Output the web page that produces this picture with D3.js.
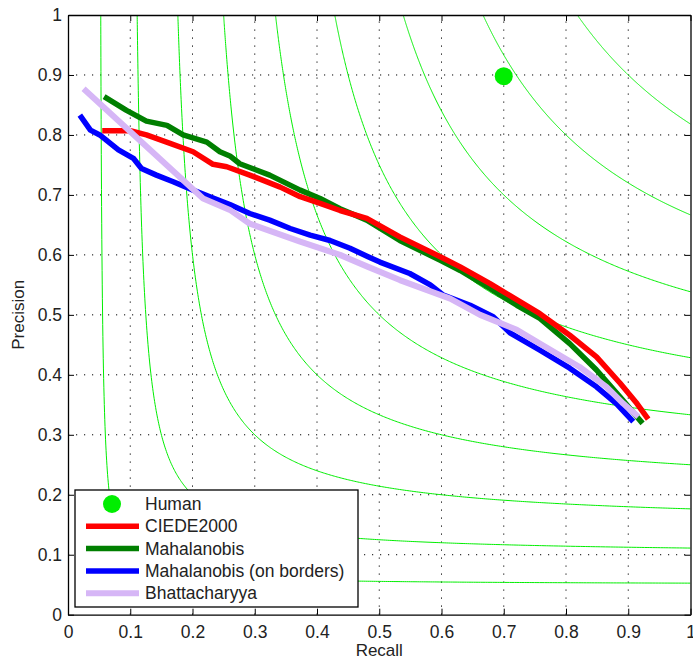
<!DOCTYPE html>
<html>
<head>
<meta charset="utf-8">
<script src="https://cdn.jsdelivr.net/npm/d3@7"></script>
<style>
  body { margin: 0; background: #fff; }
  text { font-family: "Liberation Sans", Arial, sans-serif; fill: #222; }
</style>
</head>
<body>
<div id="chart"></div>
<script>
// iso F-measure levels
const fLevels = [0.1, 0.2, 0.3, 0.4, 0.5, 0.6, 0.7, 0.8, 0.9];
const ticks = [0, 0.1, 0.2, 0.3, 0.4, 0.5, 0.6, 0.7, 0.8, 0.9, 1];
const tickLabels = ['0', '0.1', '0.2', '0.3', '0.4', '0.5', '0.6', '0.7', '0.8', '0.9', '1'];

const human = { recall: 0.70, precision: 0.898 };

// [recall, precision]
const ciede2000 = [
  [0.055, 0.807], [0.10, 0.807], [0.126, 0.80], [0.164, 0.786], [0.201, 0.772],
  [0.233, 0.751], [0.255, 0.747], [0.292, 0.733], [0.341, 0.713], [0.373, 0.697],
  [0.405, 0.686], [0.437, 0.674], [0.48, 0.661], [0.533, 0.63], [0.598, 0.597],
  [0.63, 0.58], [0.678, 0.552], [0.71, 0.532], [0.758, 0.502], [0.806, 0.466],
  [0.849, 0.43], [0.887, 0.386], [0.914, 0.352], [0.932, 0.326]
];
const mahalanobis = [
  [0.058, 0.864], [0.094, 0.841], [0.126, 0.823], [0.159, 0.816], [0.185, 0.80],
  [0.223, 0.788], [0.244, 0.772], [0.26, 0.765], [0.276, 0.752], [0.324, 0.733],
  [0.373, 0.708], [0.405, 0.694], [0.437, 0.677], [0.48, 0.658], [0.533, 0.624],
  [0.598, 0.591], [0.63, 0.574], [0.678, 0.544], [0.721, 0.516], [0.758, 0.494],
  [0.806, 0.452], [0.849, 0.408], [0.887, 0.363], [0.923, 0.319]
];
const mahalanobisBorders = [
  [0.019, 0.833], [0.036, 0.808], [0.051, 0.80], [0.081, 0.775], [0.105, 0.761],
  [0.118, 0.744], [0.142, 0.733], [0.169, 0.722], [0.201, 0.708], [0.228, 0.697],
  [0.26, 0.684], [0.292, 0.669], [0.324, 0.658], [0.357, 0.644], [0.389, 0.633],
  [0.421, 0.624], [0.453, 0.611], [0.482, 0.597], [0.501, 0.588], [0.549, 0.569],
  [0.582, 0.55], [0.603, 0.533], [0.646, 0.516], [0.683, 0.497], [0.71, 0.47],
  [0.758, 0.441], [0.806, 0.411], [0.849, 0.38], [0.881, 0.352], [0.908, 0.322]
];
const bhattacharyya = [
  [0.025, 0.877], [0.217, 0.694], [0.26, 0.675], [0.292, 0.652], [0.373, 0.622],
  [0.437, 0.60], [0.482, 0.58], [0.533, 0.558], [0.614, 0.527], [0.662, 0.50],
  [0.721, 0.475], [0.758, 0.452], [0.822, 0.413], [0.865, 0.38], [0.892, 0.352],
  [0.916, 0.33]
];

const series = [
  { name: 'Mahalanobis', values: mahalanobis, color: '#007f00', width: 5.5 },
  { name: 'CIEDE2000', values: ciede2000, color: '#ff0000', width: 5.5 },
  { name: 'Mahalanobis (on borders)', values: mahalanobisBorders, color: '#0000ff', width: 5.5 },
  { name: 'Bhattacharyya', values: bhattacharyya, color: '#d6b6f6', width: 6 }
];
const legendOrder = ['CIEDE2000', 'Mahalanobis', 'Mahalanobis (on borders)', 'Bhattacharyya'];

const width = 693, height = 660;
const margin = { top: 15, right: 2.5, bottom: 45.3, left: 68 };

const svg = d3.select('#chart').append('svg')
  .attr('width', width)
  .attr('height', height);

const x = d3.scaleLinear().domain([0, 1]).range([margin.left, width - margin.right]);
const y = d3.scaleLinear().domain([0, 1]).range([height - margin.bottom, margin.top]);

svg.append('defs').append('clipPath').attr('id', 'plot-clip')
  .append('rect')
  .attr('x', x(0)).attr('y', y(1))
  .attr('width', x(1) - x(0)).attr('height', y(0) - y(1));

// dotted grid
const grid = svg.append('g');
grid.selectAll('line.gx')
  .data(ticks.slice(1, -1))
  .enter().append('line')
  .attr('x1', d => x(d)).attr('x2', d => x(d))
  .attr('y1', y(0)).attr('y2', y(1))
  .attr('stroke', '#000').attr('stroke-width', 1)
  .attr('stroke-dasharray', '1.2,6.8');
grid.selectAll('line.gy')
  .data(ticks.slice(1, -1))
  .enter().append('line')
  .attr('y1', d => y(d)).attr('y2', d => y(d))
  .attr('x1', x(0)).attr('x2', x(1))
  .attr('stroke', '#000').attr('stroke-width', 1)
  .attr('stroke-dasharray', '1.2,6.8');

// iso-F curves
const plot = svg.append('g').attr('clip-path', 'url(#plot-clip)');
const isoLine = d3.line().x(d => x(d[0])).y(d => y(d[1]));
fLevels.forEach(f => {
  const r0 = f / (2 - f);
  const pts = d3.range(0, 401).map(i => {
    const r = r0 + (1 - r0) * Math.pow(i / 400, 2);
    return [r, f * r / (2 * r - f)];
  });
  plot.append('path')
    .attr('d', isoLine(pts))
    .attr('fill', 'none')
    .attr('stroke', '#00ee00')
    .attr('stroke-width', 1);
});

// curves
const line = d3.line().x(d => x(d[0])).y(d => y(d[1]));
series.forEach(s => {
  plot.append('path')
    .attr('d', line(s.values))
    .attr('fill', 'none')
    .attr('stroke', s.color)
    .attr('stroke-width', s.width)
    .attr('stroke-linejoin', 'round');
});

plot.append('circle')
  .attr('cx', x(human.recall))
  .attr('cy', y(human.precision))
  .attr('r', 9)
  .attr('fill', '#00ee00');

// axes (ticks inward, all four sides)
const tickLen = 6;
svg.append('g')
  .attr('transform', `translate(0,${y(0)})`)
  .call(d3.axisBottom(x).tickValues(ticks).tickSizeInner(-tickLen).tickSizeOuter(0)
    .tickPadding(11).tickFormat((d, i) => tickLabels[i]))
  .call(g => g.selectAll('text').style('font-size', '17.5px').attr('fill', '#222'));
svg.append('g')
  .attr('transform', `translate(${x(0)},0)`)
  .call(d3.axisLeft(y).tickValues(ticks).tickSizeInner(-tickLen).tickSizeOuter(0)
    .tickPadding(6).tickFormat((d, i) => tickLabels[i]))
  .call(g => g.selectAll('text').style('font-size', '17.5px').attr('fill', '#222'));
svg.append('g')
  .attr('transform', `translate(0,${y(1)})`)
  .call(d3.axisTop(x).tickValues(ticks).tickSizeInner(-tickLen).tickSizeOuter(0).tickFormat(''));
svg.append('g')
  .attr('transform', `translate(${x(1)},0)`)
  .call(d3.axisRight(y).tickValues(ticks).tickSizeInner(-tickLen).tickSizeOuter(0).tickFormat(''));
svg.selectAll('.domain').attr('stroke', '#000').attr('stroke-width', 1.3);

// axis titles
svg.append('text')
  .attr('x', x(0.5)).attr('y', 656)
  .attr('text-anchor', 'middle')
  .style('font-size', '17px')
  .text('Recall');
svg.append('text')
  .attr('transform', `translate(24,${y(0.5)}) rotate(-90)`)
  .attr('text-anchor', 'middle')
  .style('font-size', '17px')
  .text('Precision');

// legend
const legend = svg.append('g').attr('transform', 'translate(75,490)');
legend.append('rect')
  .attr('width', 283).attr('height', 117)
  .attr('fill', '#fff').attr('stroke', '#000').attr('stroke-width', 1.3);
const rowY = i => 14 + i * 22.3;
legend.append('circle')
  .attr('cx', 37).attr('cy', rowY(0)).attr('r', 9).attr('fill', '#00ee00');
legend.append('text')
  .attr('x', 70).attr('y', rowY(0)).attr('dy', '0.35em')
  .style('font-size', '17.5px').text('Human');
legendOrder.forEach((name, i) => {
  const s = series.find(d => d.name === name);
  legend.append('line')
    .attr('x1', 11).attr('x2', 64)
    .attr('y1', rowY(i + 1)).attr('y2', rowY(i + 1))
    .attr('stroke', s.color).attr('stroke-width', s.width);
  legend.append('text')
    .attr('x', 70).attr('y', rowY(i + 1)).attr('dy', '0.35em')
    .style('font-size', '17.5px').text(name);
});
</script>
</body>
</html>
